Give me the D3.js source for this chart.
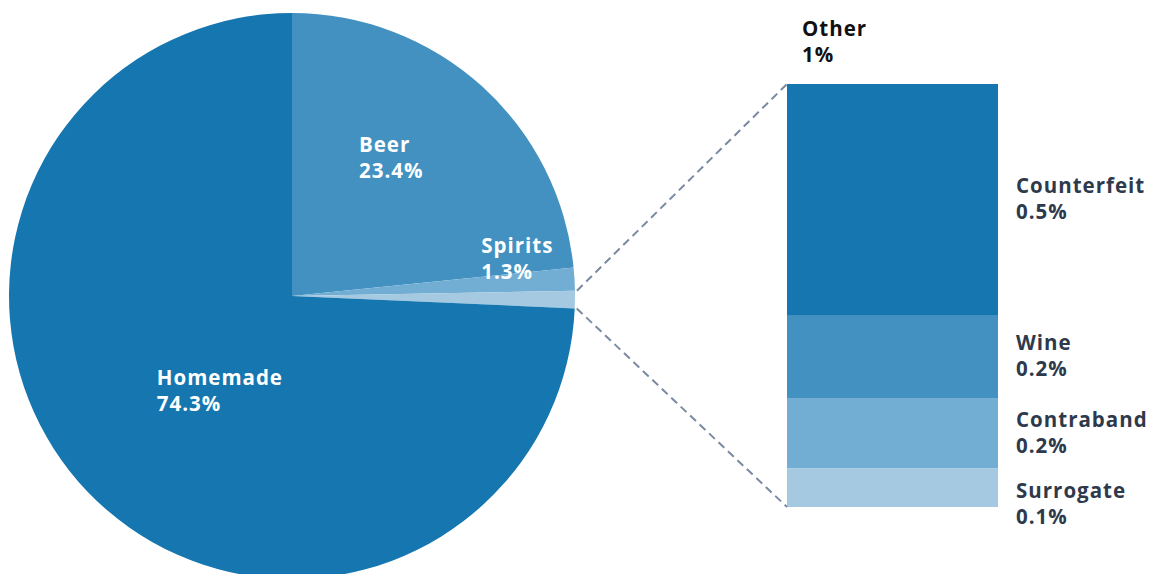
<!DOCTYPE html>
<html>
<head>
<meta charset="utf-8">
<script src="https://cdn.jsdelivr.net/npm/d3@7"></script>
<style>
  html, body { margin: 0; padding: 0; background: #ffffff; }
  svg { display: block; }
  text { font-family: "Open Sans", "Noto Sans", sans-serif; font-weight: 700; letter-spacing: 1px; }
</style>
</head>
<body>
<svg id="chart" width="1153" height="574"></svg>
<script>
// Alcohol consumption by source (% of total)
const pieCategories = ["Beer", "Spirits", "Other", "Homemade"];
const pieValues = [23.4, 1.3, 1.0, 74.3];

// Breakdown of the "Other" slice
const otherCategories = ["Counterfeit", "Wine", "Contraband", "Surrogate"];
const otherValues = [0.548, 0.196, 0.165, 0.091];

const otherLabel = "Other";

const colors = {
  Homemade: "#1576b0",
  Beer: "#4391c1",
  Spirits: "#72aed3",
  Other: "#a4c9e1",
  Counterfeit: "#1576b0",
  Wine: "#4391c1",
  Contraband: "#72aed3",
  Surrogate: "#a4c9e1"
};

const svg = d3.select("#chart");
const cx = 292, cy = 296, radius = 283;
const fontSize = 20.5, lineGap = 26;

const pie = d3.pie().sort(null).value(d => d.value);
const arcs = pie(pieCategories.map((c, i) => ({ name: c, value: pieValues[i] })));
const arc = d3.arc().innerRadius(0).outerRadius(radius);

const g = svg.append("g").attr("transform", `translate(${cx},${cy})`);
g.selectAll("path.slice")
  .data(arcs)
  .join("path")
  .attr("class", "slice")
  .attr("d", arc)
  .attr("fill", d => colors[d.data.name]);

// label anchors for the pie, polar (degrees clockwise from top, radius)
const pieLabelAnchor = {
  Beer: [24.9, 159],
  Spirits: [77.2, 194],
  Homemade: [236.6, 162]
};
const fmtPie = d => d3.format(".1f")(d) + "%";
arcs.filter(d => pieLabelAnchor[d.data.name]).forEach(d => {
  const [a, r] = pieLabelAnchor[d.data.name];
  const rad = a * Math.PI / 180;
  const x = r * Math.sin(rad), y = -r * Math.cos(rad);
  const t = g.append("text")
    .attr("x", x).attr("y", y)
    .attr("fill", "#ffffff")
    .attr("font-size", fontSize);
  t.append("tspan").attr("x", x).text(d.data.name);
  t.append("tspan").attr("x", x).attr("dy", lineGap).text(fmtPie(d.data.value));
});

// stacked bar for the Other breakdown
const barX = 787, barW = 211, barTop = 84, barBottom = 507;
const otherTotal = d3.sum(otherValues);
const yScale = d3.scaleLinear().domain([0, otherTotal]).range([barTop, barBottom]);
let acc = 0;
const segs = otherCategories.map((c, i) => {
  const s = { name: c, value: otherValues[i], y0: acc, y1: acc + otherValues[i] };
  acc += otherValues[i];
  return s;
});

svg.selectAll("rect.seg")
  .data(segs)
  .join("rect")
  .attr("class", "seg")
  .attr("x", barX)
  .attr("width", barW)
  .attr("y", d => yScale(d.y0))
  .attr("height", d => yScale(d.y1) - yScale(d.y0))
  .attr("fill", d => colors[d.name]);

// dashed connectors from the Other slice to the bar
const otherArc = arcs.find(d => d.data.name === otherLabel);
const edgePt = a => [cx + radius * Math.sin(a), cy - radius * Math.cos(a)];
const pTop = edgePt(otherArc.startAngle);
const pBot = edgePt(otherArc.endAngle);
[[pTop, [barX, barTop]], [pBot, [barX, barBottom]]].forEach(([p, q]) => {
  svg.append("line")
    .attr("x1", p[0] + 2).attr("y1", p[1])
    .attr("x2", q[0]).attr("y2", q[1])
    .attr("stroke", "#7a8aa2")
    .attr("stroke-width", 2)
    .attr("stroke-dasharray", "8,5");
});

// segment labels, pushed down when they would overlap
const fmtSeg = d => d3.format(".1f")(d) + "%";
let prevY = -Infinity;
segs.forEach(s => {
  const mid = (yScale(s.y0) + yScale(s.y1)) / 2;
  const y = Math.max(mid, prevY + 71);
  prevY = y;
  const t = svg.append("text")
    .attr("x", 1016).attr("y", y - 7)
    .attr("fill", "#2e3a4c")
    .attr("font-size", fontSize);
  t.append("tspan").attr("x", 1016).text(s.name);
  t.append("tspan").attr("x", 1016).attr("dy", lineGap).text(fmtSeg(s.value));
});

// heading for the bar
const otherTitle = svg.append("text")
  .attr("x", 802).attr("y", 36)
  .attr("fill", "#111111")
  .attr("font-size", fontSize);
otherTitle.append("tspan").attr("x", 802).text(otherLabel);
otherTitle.append("tspan").attr("x", 802).attr("dy", lineGap)
  .text(d3.format(".0f")(otherArc.data.value) + "%");
</script>
</body>
</html>
